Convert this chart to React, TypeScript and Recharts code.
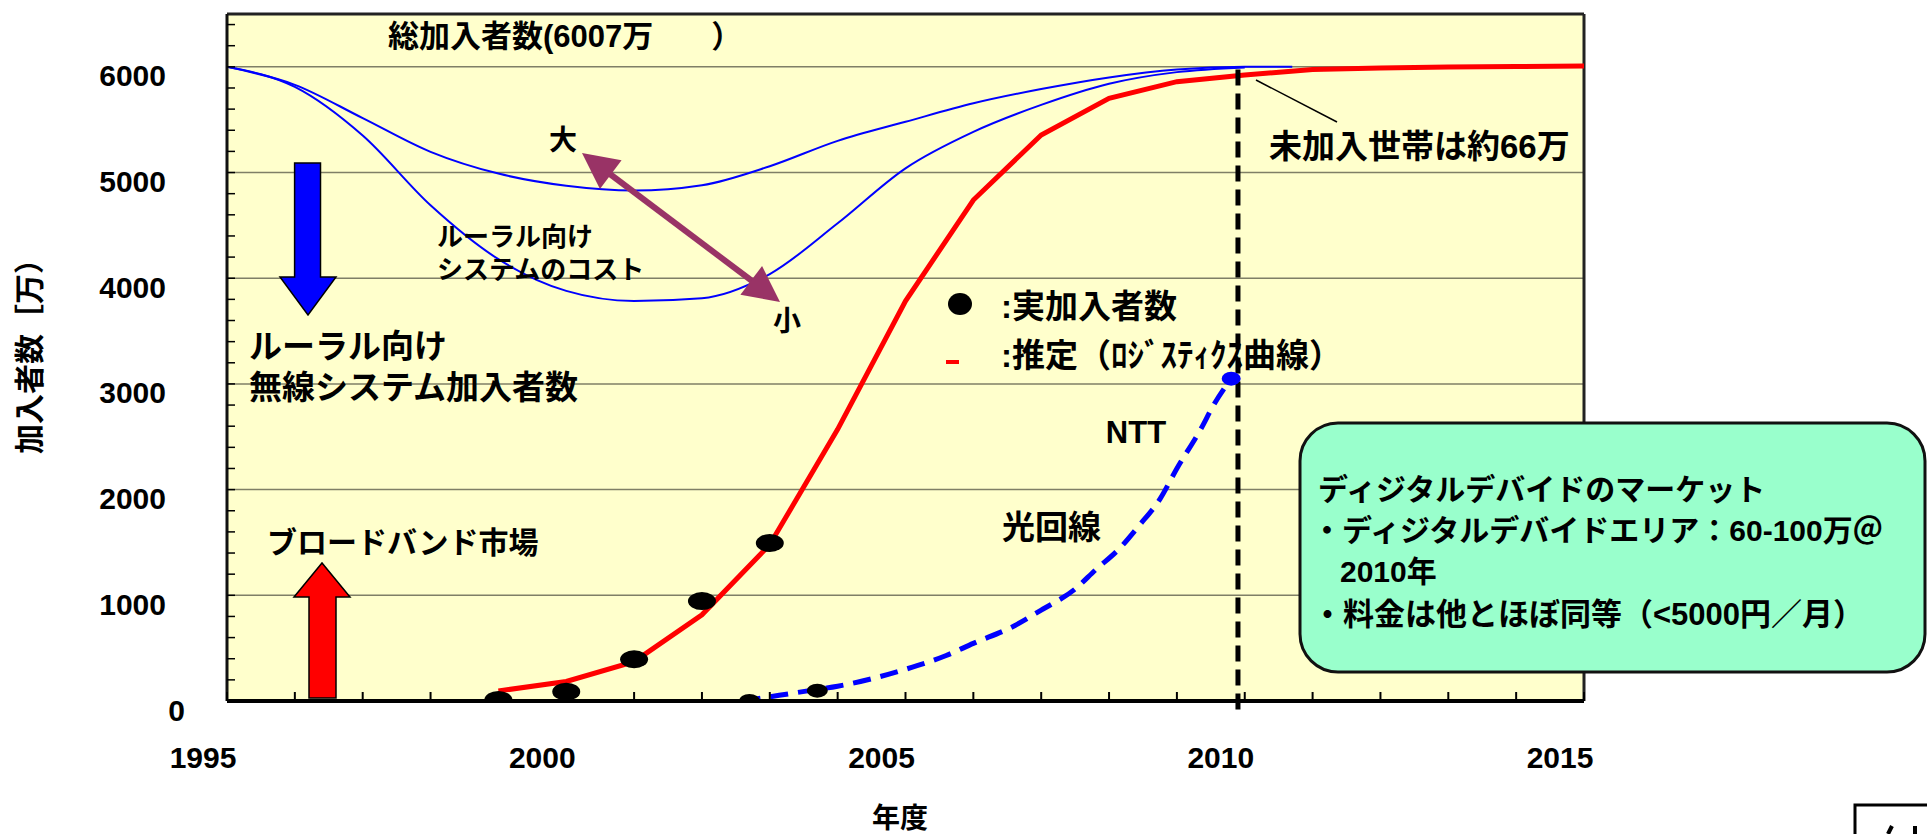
import React from 'react';
import {
  ComposedChart,
  Line,
  Scatter,
  XAxis,
  YAxis,
  CartesianGrid,
  ReferenceLine,
} from 'recharts';

const FONT = "'Liberation Sans', Arial, 'Noto Sans CJK JP', sans-serif";

// 年度 axis: a tick every year, label every 5 years
const YEARS = [1995, 1996, 1997, 1998, 1999, 2000, 2001, 2002, 2003, 2004, 2005, 2006, 2007, 2008, 2009, 2010, 2011, 2012, 2013, 2014, 2015];
// 加入者数 axis: minor tick every 200, label + grid every 1000
const COUNT_TICKS = [0, 200, 400, 600, 800, 1000, 1200, 1400, 1600, 1800, 2000, 2200, 2400, 2600, 2800, 3000, 3200, 3400, 3600, 3800, 4000, 4200, 4400, 4600, 4800, 5000, 5200, 5400, 5600, 5800, 6000, 6200, 6400];
const GRID_VALUES = [1000, 2000, 3000, 4000, 5000, 6000];

// 推定（ロジスティクス曲線）
const ESTIMATE = [
  { year: 1999, value: 95 },
  { year: 2000, value: 185 },
  { year: 2001, value: 372 },
  { year: 2002, value: 815 },
  { year: 2003, value: 1480 },
  { year: 2004, value: 2570 },
  { year: 2005, value: 3784 },
  { year: 2006, value: 4740 },
  { year: 2007, value: 5355 },
  { year: 2008, value: 5702 },
  { year: 2009, value: 5860 },
  { year: 2010, value: 5922 },
  { year: 2011, value: 5975 },
  { year: 2012, value: 5988 },
  { year: 2013, value: 5998 },
  { year: 2014, value: 6003 },
  { year: 2015, value: 6007 },
];

// 実加入者数
const ACTUAL = [
  { year: 1999, value: 10 },
  { year: 2000, value: 88 },
  { year: 2001, value: 395 },
  { year: 2002, value: 945 },
  { year: 2003, value: 1495 },
];

// ルーラル向け無線システム加入者数 (system cost: high / low)
const COST_HIGH = [
  { year: 1995, value: 6000 },
  { year: 1996, value: 5830 },
  { year: 1997, value: 5515 },
  { year: 1998, value: 5196 },
  { year: 1999, value: 4990 },
  { year: 2000, value: 4875 },
  { year: 2001, value: 4830 },
  { year: 2002, value: 4880 },
  { year: 2003, value: 5060 },
  { year: 2004, value: 5300 },
  { year: 2005, value: 5480 },
  { year: 2006, value: 5655 },
  { year: 2007, value: 5790 },
  { year: 2008, value: 5900 },
  { year: 2009, value: 5975 },
  { year: 2010, value: 6000 },
  { year: 2010.7, value: 6000 },
];

const COST_LOW = [
  { year: 1995, value: 6000 },
  { year: 1996, value: 5810 },
  { year: 1997, value: 5350 },
  { year: 1998, value: 4690 },
  { year: 1999, value: 4180 },
  { year: 2000, value: 3880 },
  { year: 2001, value: 3785 },
  { year: 2002, value: 3811 },
  { year: 2003, value: 4040 },
  { year: 2004, value: 4520 },
  { year: 2005, value: 5040 },
  { year: 2006, value: 5385 },
  { year: 2007, value: 5640 },
  { year: 2008, value: 5840 },
  { year: 2009, value: 5950 },
  { year: 2010, value: 5995 },
];

// NTT 光回線
const NTT_FIBER = [
  { year: 2002.6, value: 0 },
  { year: 2003.7, value: 110 },
  { year: 2004, value: 140 },
  { year: 2005, value: 300 },
  { year: 2005.6, value: 430 },
  { year: 2006, value: 545 },
  { year: 2006.6, value: 710 },
  { year: 2007, value: 860 },
  { year: 2007.5, value: 1060 },
  { year: 2007.8, value: 1240 },
  { year: 2008.15, value: 1440 },
  { year: 2008.45, value: 1665 },
  { year: 2008.75, value: 1910 },
  { year: 2009, value: 2200 },
  { year: 2009.35, value: 2570 },
  { year: 2009.55, value: 2810 },
  { year: 2009.8, value: 3050 },
];
const NTT_ACTUAL = [
  { year: 2002.7, value: 0 },
  { year: 2003.7, value: 98 },
];
const NTT_TARGET = [{ year: 2009.8, value: 3050 }];

const MARKER_YEAR = 2009.9;
const MARKER_TOP = 6000;

const txt = (size: number) => ({
  fontFamily: FONT,
  fontWeight: 700,
  fontSize: size,
  fill: '#000',
});

const YearTick = ({ x, y, payload }: any) => {
  const yr = payload.value;
  return (
    <g>
      <line x1={x} y1={y} x2={x} y2={y - 9} stroke="#000" strokeWidth={2} />
      {yr % 5 === 0 && (
        <text x={x - 24} y={y + 56} textAnchor="middle" dominantBaseline="central" {...txt(30)}>
          {yr}
        </text>
      )}
    </g>
  );
};

const CountTick = ({ x, y, payload }: any) => {
  const v = payload.value;
  return (
    <g>
      <line x1={x} y1={y} x2={x + 8} y2={y} stroke="#000" strokeWidth={1.5} />
      {v % 1000 === 0 && (
        <text x={v === 0 ? x - 42 : x - 61} y={y + 9} textAnchor="end" dominantBaseline="central" {...txt(30)}>
          {v}
        </text>
      )}
    </g>
  );
};

const dotShape = (rx: number, ry: number, fill: string) => (p: any) =>
  <ellipse cx={p.cx} cy={p.cy} rx={rx} ry={ry} fill={fill} />;

// double headed arrow between two points
const doubleArrow = (ax: number, ay: number, bx: number, by: number, color: string) => {
  const len = Math.hypot(bx - ax, by - ay);
  const ux = (bx - ax) / len;
  const uy = (by - ay) / len;
  const nx = -uy;
  const ny = ux;
  const head = 36;
  const half = 18;
  const tri = (tx: number, ty: number, dir: number) => {
    const bxx = tx + dir * ux * head;
    const byy = ty + dir * uy * head;
    return `${tx},${ty} ${bxx + nx * half},${byy + ny * half} ${bxx - nx * half},${byy - ny * half}`;
  };
  return (
    <g>
      <line
        x1={ax + ux * (head - 4)}
        y1={ay + uy * (head - 4)}
        x2={bx - ux * (head - 4)}
        y2={by - uy * (head - 4)}
        stroke={color}
        strokeWidth={6}
      />
      <polygon points={tri(ax, ay, 1)} fill={color} />
      <polygon points={tri(bx, by, -1)} fill={color} />
    </g>
  );
};

const Annotations = () => (
  <svg
    width={1927}
    height={834}
    style={{ position: 'absolute', left: 0, top: 0, pointerEvents: 'none' }}
  >
    {/* axis titles */}
    <text x={29} y={349} transform="rotate(-90 29 349)" textAnchor="middle" dominantBaseline="central" {...txt(30)}>
      加入者数［万）
    </text>
    <text x={900} y={818} textAnchor="middle" dominantBaseline="central" {...txt(28)}>
      年度
    </text>

    <text x={388} y={36} dominantBaseline="central" {...txt(31)}>
      総加入者数(6007万<tspan dx={58}>）</tspan>
    </text>

    {/* down arrow: rural wireless subscribers */}
    <polygon
      points="294.6,163 320.5,163 320.5,277 336,277 308,315 280,277 294.6,277"
      fill="#0000FF"
      stroke="#000"
      strokeWidth={1.5}
    />
    <text x={249} y={346} dominantBaseline="central" {...txt(33)}>ルーラル向け</text>
    <text x={249} y={387} dominantBaseline="central" {...txt(33)}>無線システム加入者数</text>

    {/* up arrow: broadband market */}
    <polygon
      points="309,698 336,698 336,597 350,597 322,563 294,597 309,597"
      fill="#FF0000"
      stroke="#000"
      strokeWidth={1.5}
    />
    <text x={267} y={542} dominantBaseline="central" {...txt(30)}>ブロードバンド市場</text>

    {/* cost range */}
    <text x={437} y={237} dominantBaseline="central" {...txt(26)}>ルーラル向け</text>
    <text x={437} y={270} dominantBaseline="central" {...txt(26)}>システムのコスト</text>
    {doubleArrow(582, 153, 780, 302, '#993366')}
    <text x={563} y={140} textAnchor="middle" dominantBaseline="central" {...txt(28)}>大</text>
    <text x={787} y={321} textAnchor="middle" dominantBaseline="central" {...txt(28)}>小</text>

    {/* legend */}
    <ellipse cx={960} cy={304} rx={12} ry={11} fill="#000" />
    <text x={1001} y={306} dominantBaseline="central" {...txt(33)}>:実加入者数</text>
    <line x1={946} y1={362} x2={959} y2={362} stroke="#FF0000" strokeWidth={4} />
    <text x={1001} y={355} dominantBaseline="central" {...txt(33)}>:推定（ﾛｼﾞｽﾃｨｸｽ曲線）</text>

    {/* remaining households */}
    <line x1={1256} y1={80} x2={1337} y2={122} stroke="#000" strokeWidth={1.5} />
    <text x={1269} y={146} dominantBaseline="central" {...txt(33)}>未加入世帯は約66万</text>

    <text x={1136} y={432} textAnchor="middle" dominantBaseline="central" {...txt(31)}>NTT</text>
    <text x={1002} y={527} dominantBaseline="central" {...txt(33)}>光回線</text>

    {/* digital divide box */}
    <rect x={1300} y={423} width={625} height={249} rx={38} ry={38} fill="#99FFCC" stroke="#111" strokeWidth={3} />
    <text x={1318} y={489} dominantBaseline="central" {...txt(30)}>ディジタルデバイドのマーケット</text>
    <text x={1312} y={530} dominantBaseline="central" {...txt(30)}>・ディジタルデバイドエリア：60-100万＠</text>
    <text x={1340} y={571} dominantBaseline="central" {...txt(30)}>2010年</text>
    <text x={1312} y={614} dominantBaseline="central" {...txt(31)}>・料金は他とほぼ同等（&lt;5000円／月）</text>

    {/* page tab */}
    <rect x={1855} y={805} width={100} height={60} fill="#fff" stroke="#000" strokeWidth={3} />
    <line x1={1892} y1={826} x2={1888} y2={834} stroke="#000" strokeWidth={4} />
    <line x1={1915} y1={826} x2={1915} y2={834} stroke="#000" strokeWidth={4} />
  </svg>
);

export default function App() {
  return (
    <div style={{ position: 'relative', width: 1927, height: 834, background: '#fff' }}>
      <style>{'body{margin:0;overflow:hidden}'}</style>
      <ComposedChart
        width={1927}
        height={834}
        margin={{ top: 14, right: 343, bottom: 73, left: 0 }}
      >
        <CartesianGrid
          vertical={false}
          horizontalValues={GRID_VALUES}
          stroke="#7f7f66"
          strokeWidth={1.5}
          fill="#FFFFCC"
          fillOpacity={1}
        />
        <XAxis
          dataKey="year"
          type="number"
          domain={[1995, 2015]}
          ticks={YEARS}
          interval={0}
          allowDataOverflow
          height={60}
          tickSize={0}
          tickMargin={0}
          tickLine={false}
          tick={<YearTick />}
          axisLine={{ stroke: '#000', strokeWidth: 4 }}
        />
        <YAxis
          type="number"
          domain={[0, 6500]}
          ticks={COUNT_TICKS}
          interval={0}
          allowDataOverflow
          width={227}
          tickSize={0}
          tickMargin={0}
          tickLine={false}
          tick={<CountTick />}
          axisLine={{ stroke: '#111', strokeWidth: 3 }}
        />
        <ReferenceLine y={6500} stroke="#222" strokeWidth={3} />
        <ReferenceLine x={2015} stroke="#222" strokeWidth={3} />

        <Line data={COST_HIGH} dataKey="value" type="monotone" stroke="#0000FF" strokeWidth={2} dot={false} activeDot={false} isAnimationActive={false} />
        <Line data={COST_LOW} dataKey="value" type="monotone" stroke="#0000FF" strokeWidth={2} dot={false} activeDot={false} isAnimationActive={false} />
        <Line
          data={NTT_FIBER}
          dataKey="value"
          type="monotone"
          stroke="#0000FF"
          strokeWidth={5}
          strokeDasharray="18 10"
          dot={false}
          activeDot={false}
          isAnimationActive={false}
        />
        <Line data={ESTIMATE} dataKey="value" type="linear" stroke="#FF0000" strokeWidth={5} dot={false} activeDot={false} isAnimationActive={false} />

        <ReferenceLine
          segment={[
            { x: MARKER_YEAR, y: -80 },
            { x: MARKER_YEAR, y: MARKER_TOP },
          ]}
          stroke="#000"
          strokeWidth={5}
          strokeDasharray="16 8"
          ifOverflow="visible"
        />

        <Scatter data={ACTUAL} dataKey="value" shape={dotShape(14, 9, '#000')} isAnimationActive={false} />
        <Scatter data={NTT_ACTUAL} dataKey="value" shape={dotShape(10.5, 7, '#000')} isAnimationActive={false} />
        <Scatter data={NTT_TARGET} dataKey="value" shape={dotShape(9.5, 7, '#0000FF')} isAnimationActive={false} />
      </ComposedChart>
      <Annotations />
    </div>
  );
}
